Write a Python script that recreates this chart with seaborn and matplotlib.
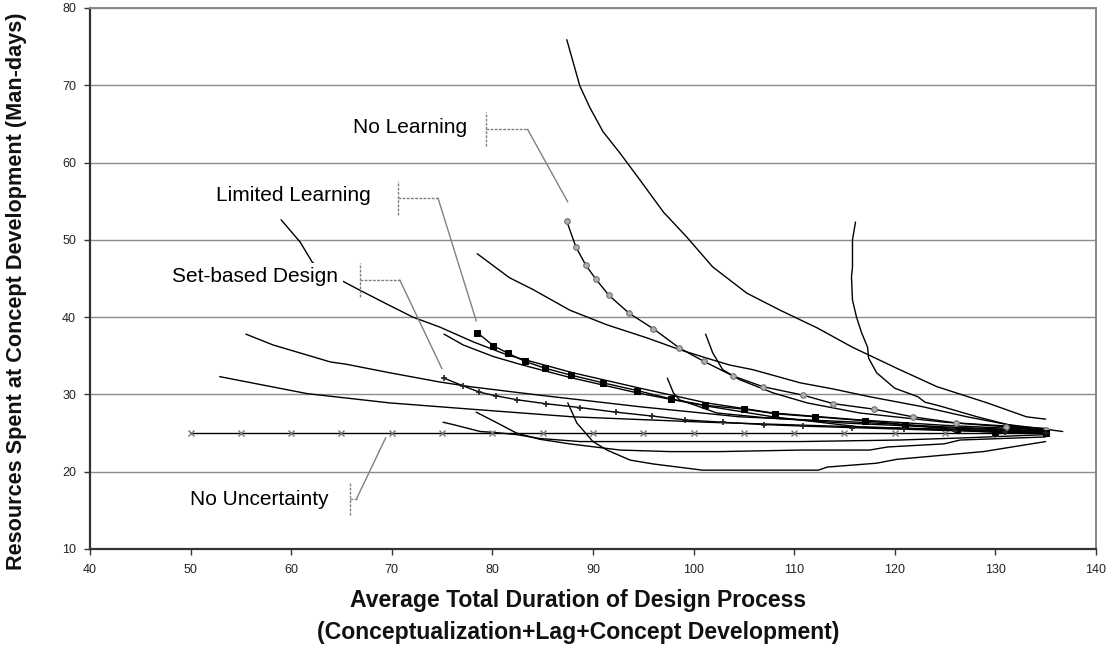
import matplotlib
matplotlib.use("Agg")
import matplotlib.pyplot as plt
from matplotlib import font_manager
import numpy as np
import pandas as pd
import seaborn as sns

# ---- data -------------------------------------------------------------
no_uncertainty_x = [50, 55, 60, 65, 70, 75, 80, 85, 90, 95, 100, 105, 110, 115, 120, 125, 130, 135]
no_uncertainty_y = [25, 25, 25, 25, 25, 25, 25, 25, 25, 25, 25, 25, 25, 25, 25, 25, 25, 25]

no_learning_x = [87.4, 88.3, 89.3, 90.3, 91.6, 93.6, 96.0, 98.6, 101.0, 103.9, 106.9, 110.9, 113.9, 117.9, 121.8, 126.1, 131.1, 135.0]
no_learning_y = [52.4, 49.1, 46.7, 44.9, 42.8, 40.5, 38.5, 36.0, 34.3, 32.4, 31.0, 29.9, 28.8, 28.1, 27.1, 26.3, 25.8, 25.4]

limited_x = [78.5, 80.1, 81.6, 83.2, 85.2, 87.8, 91.0, 94.4, 97.8, 101.1, 105.0, 108.1, 112.1, 117.0, 121.0, 126.2, 130.0, 135.0]
limited_y = [38.0, 36.3, 35.3, 34.3, 33.4, 32.5, 31.5, 30.5, 29.4, 28.6, 28.1, 27.5, 27.1, 26.6, 26.1, 25.4, 25.1, 25.0]

setbased_x = [75.2, 77.1, 78.7, 80.4, 82.5, 85.3, 88.7, 92.3, 95.9, 99.2, 102.9, 107.0, 110.9, 115.8, 120.9, 126.0, 131.0, 135.0]
setbased_y = [32.1, 31.1, 30.3, 29.8, 29.3, 28.8, 28.3, 27.7, 27.2, 26.7, 26.4, 26.1, 25.9, 25.7, 25.5, 25.3, 25.1, 25.0]

# unmarked scenario curves
curve_a_x = [87.4, 88.7, 89.7, 91.0, 92.7, 94.7, 97.0, 99.3, 101.9, 105.3, 108.6, 112.3, 115.8, 120.5, 124.2, 129.2, 133.1, 135.0]
curve_a_y = [75.9, 69.9, 67.1, 64.0, 61.2, 57.7, 53.6, 50.4, 46.5, 43.1, 40.9, 38.6, 36.1, 33.2, 31.0, 28.9, 27.1, 26.8]

curve_b_x = [116.1, 115.8, 115.8, 115.7, 115.8, 116.2, 116.7, 117.3, 117.4, 118.2, 120.0, 122.3, 123.0, 124.5, 128.2, 131.2, 133.8, 135.0]
curve_b_y = [52.3, 50.0, 46.5, 45.2, 42.2, 40.0, 38.0, 36.1, 34.7, 32.8, 30.8, 29.7, 29.0, 28.5, 27.1, 26.1, 25.4, 25.3]

curve_c_x = [78.5, 81.7, 84.0, 87.7, 91.4, 95.4, 98.6, 101.3, 103.6, 105.9, 110.6, 113.9, 117.5, 122.8, 127.2, 131.2, 133.8, 136.7]
curve_c_y = [48.2, 45.1, 43.6, 40.9, 39.0, 37.3, 35.8, 34.7, 33.8, 33.2, 31.5, 30.7, 29.7, 28.4, 27.1, 26.1, 25.7, 25.2]

curve_d_x = [59.0, 60.9, 62.1, 63.8, 65.2, 66.8, 69.5, 72.1, 74.8, 78.1, 81.5, 88.0, 94.7, 101.3, 107.9, 116.5, 125.0, 135.0]
curve_d_y = [52.6, 49.7, 47.1, 45.6, 44.6, 43.5, 41.7, 40.0, 38.7, 36.8, 35.1, 32.8, 30.8, 28.9, 27.6, 26.7, 26.0, 25.4]

curve_e_x = [75.2, 77.1, 80.1, 83.0, 87.7, 94.4, 98.0, 101.3, 107.9, 116.5, 125.0, 135.0]
curve_e_y = [37.8, 36.4, 34.9, 33.8, 32.2, 30.2, 29.3, 28.5, 27.1, 25.8, 25.4, 25.1]

curve_f_x = [55.5, 58.2, 63.9, 65.5, 69.8, 74.8, 77.8, 84.7, 94.7, 104.6, 116.5, 125.0, 135.0]
curve_f_y = [37.8, 36.4, 34.2, 33.9, 32.8, 31.6, 31.0, 29.9, 28.4, 27.1, 26.4, 25.8, 25.3]

curve_g_x = [52.9, 61.6, 69.8, 74.8, 77.8, 88.0, 101.3, 116.5, 125.0, 135.0]
curve_g_y = [32.3, 30.1, 28.9, 28.4, 28.1, 27.1, 26.4, 25.8, 25.5, 25.2]

curve_h_x = [75.1, 76.1, 78.8, 80.0, 82.4, 84.7, 88.7, 100.0, 110.6, 120.5, 127.4, 135.0]
curve_h_y = [26.4, 26.1, 25.2, 25.1, 24.8, 24.3, 23.9, 23.9, 23.9, 24.1, 24.4, 24.8]

curve_i_x = [78.4, 80.5, 82.4, 84.7, 87.7, 92.7, 97.7, 102.6, 110.6, 117.5, 119.3, 124.9, 126.5, 135.0]
curve_i_y = [27.7, 26.3, 25.0, 24.2, 23.6, 22.8, 22.6, 22.6, 22.8, 22.8, 23.2, 23.6, 24.1, 24.5]

curve_j_x = [87.5, 88.4, 89.0, 90.0, 91.4, 93.7, 96.0, 100.9, 105.0, 112.4, 113.3, 118.2, 120.2, 126.2, 128.8, 135.0]
curve_j_y = [28.9, 26.3, 25.4, 23.9, 22.8, 21.5, 21.0, 20.2, 20.2, 20.2, 20.6, 21.1, 21.6, 22.3, 22.6, 23.9]

curve_k_x = [97.4, 98.0, 98.6, 100.6, 102.3, 107.0, 115.0, 125.0, 135.0]
curve_k_y = [32.1, 30.2, 29.3, 28.4, 27.6, 27.0, 26.3, 25.7, 25.2]

curve_l_x = [101.2, 101.9, 102.9, 104.6, 107.9, 111.3, 116.5, 125.0, 135.0]
curve_l_y = [37.8, 35.4, 33.2, 31.9, 30.2, 28.9, 27.6, 26.4, 25.6]

x_ticks = [40, 50, 60, 70, 80, 90, 100, 110, 120, 130, 140]
y_ticks = [10, 20, 30, 40, 50, 60, 70, 80]

x_label_line1 = "Average Total Duration of Design Process"
x_label_line2 = "(Conceptualization+Lag+Concept Development)"
y_label = "Resources Spent at Concept Development (Man-days)"

# ---- fonts ------------------------------------------------------------
sns.set_theme(style="white")
available = {f.name for f in font_manager.fontManager.ttflist}
main_font = "Liberation Sans" if "Liberation Sans" in available else "DejaVu Sans"
narrow_font = "Liberation Sans Narrow" if "Liberation Sans Narrow" in available else main_font
plt.rcParams["font.family"] = [main_font, "DejaVu Sans"]

# ---- figure -----------------------------------------------------------
fig = plt.figure(figsize=(11.08, 6.49), dpi=100)
ax = fig.add_axes([0.0812, 0.1541, 0.9079, 0.8336])
ax.set_facecolor("white")

plain = [
    (curve_a_x, curve_a_y), (curve_b_x, curve_b_y), (curve_c_x, curve_c_y),
    (curve_d_x, curve_d_y), (curve_e_x, curve_e_y), (curve_f_x, curve_f_y),
    (curve_g_x, curve_g_y), (curve_h_x, curve_h_y), (curve_i_x, curve_i_y),
    (curve_j_x, curve_j_y), (curve_k_x, curve_k_y), (curve_l_x, curve_l_y),
]
frames = []
for i, (xs, ys) in enumerate(plain):
    frames.append(pd.DataFrame({"x": xs, "y": ys, "curve": i}))
plain_df = pd.concat(frames, ignore_index=True)

sns.lineplot(data=plain_df, x="x", y="y", units="curve", estimator=None,
             sort=False, color="black", linewidth=1.0, ax=ax, zorder=3)

# marked series
sns.lineplot(x=no_uncertainty_x, y=no_uncertainty_y, sort=False, color="black",
             linewidth=1.0, marker="x", markersize=4, markeredgecolor="#777777",
             markeredgewidth=1.0, ax=ax, zorder=4)
sns.lineplot(x=no_learning_x, y=no_learning_y, sort=False, color="black",
             linewidth=1.0, marker="o", markersize=4, markerfacecolor="#b0b0b0",
             markeredgecolor="#707070", markeredgewidth=0.8, ax=ax, zorder=4)
sns.lineplot(x=limited_x, y=limited_y, sort=False, color="black",
             linewidth=1.0, marker="s", markersize=5, markerfacecolor="black",
             markeredgecolor="black", ax=ax, zorder=4)
sns.lineplot(x=setbased_x, y=setbased_y, sort=False, color="black",
             linewidth=1.0, marker="+", markersize=4.5, markeredgecolor="#222222",
             markeredgewidth=1.2, ax=ax, zorder=4)

# ---- axes styling -----------------------------------------------------
ax.set_xlim(40, 140)
ax.set_ylim(10, 80)
ax.set_xticks(x_ticks)
ax.set_yticks(y_ticks)
ax.yaxis.grid(True, color="#8c8c8c", linewidth=1.0)
ax.xaxis.grid(False)
ax.set_axisbelow(True)
for side in ("left", "bottom"):
    ax.spines[side].set_color("#333333")
    ax.spines[side].set_linewidth(1.6)
for side in ("top", "right"):
    ax.spines[side].set_color("#888888")
    ax.spines[side].set_linewidth(1.4)
ax.tick_params(axis="both", which="major", direction="out", length=4, width=1.0,
               color="#333333", labelsize=9, pad=6)
ax.tick_params(axis="x", bottom=True, pad=7)
ax.tick_params(axis="y", left=True)
for lab in ax.get_xticklabels() + ax.get_yticklabels():
    lab.set_fontfamily(narrow_font)
    lab.set_color("#222222")

ax.set_xlabel("")
ax.set_ylabel("")
fig.text(0.5217, 1 - 601 / 649, x_label_line1, ha="center", va="center",
         fontsize=16.6, fontweight="bold", fontfamily=narrow_font, color="#111111")
fig.text(0.5217, 1 - 633 / 649, x_label_line2, ha="center", va="center",
         fontsize=16.6, fontweight="bold", fontfamily=narrow_font, color="#111111")
fig.text(0.0145, 1 - 291 / 649, y_label, ha="center", va="center", rotation=90,
         fontsize=15.6, fontweight="bold", color="#111111")

# ---- callout annotations ---------------------------------------------
callout_grey = "#808080"
callouts = [
    # label, text-right x, text y, bar x, bar y0, bar y1, elbow x, tip x, tip y
    ("No Learning", 77.5, 64.5, 79.4, 62.1, 66.5, 83.5, 87.5, 54.9),
    ("Limited Learning", 67.9, 55.7, 70.6, 53.2, 57.6, 74.6, 78.4, 39.5),
    ("Set-based Design", 64.7, 45.2, 66.8, 42.6, 47.0, 70.8, 75.0, 33.3),
    ("No Uncertainty", 63.7, 16.4, 65.8, 14.4, 18.6, 66.5, 69.4, 24.4),
]
for label, tx, ty, bx, by0, by1, ex, px, py in callouts:
    elbow_y = (by0 + by1) / 2
    ax.plot([bx, bx], [by0, by1], color=callout_grey, linewidth=1.0,
            linestyle=(0, (2, 1)), zorder=6)
    ax.plot([bx, ex], [elbow_y, elbow_y], color=callout_grey, linewidth=1.0,
            linestyle=(0, (2, 1)), zorder=6)
    ax.plot([ex, px], [elbow_y, py], color=callout_grey, linewidth=1.0, zorder=6)
    ax.text(tx, ty, label, ha="right", va="center", fontsize=15, color="black",
            zorder=7, bbox=dict(facecolor="white", edgecolor="none", pad=3))

fig.savefig("out.png", dpi=100, facecolor="white")
